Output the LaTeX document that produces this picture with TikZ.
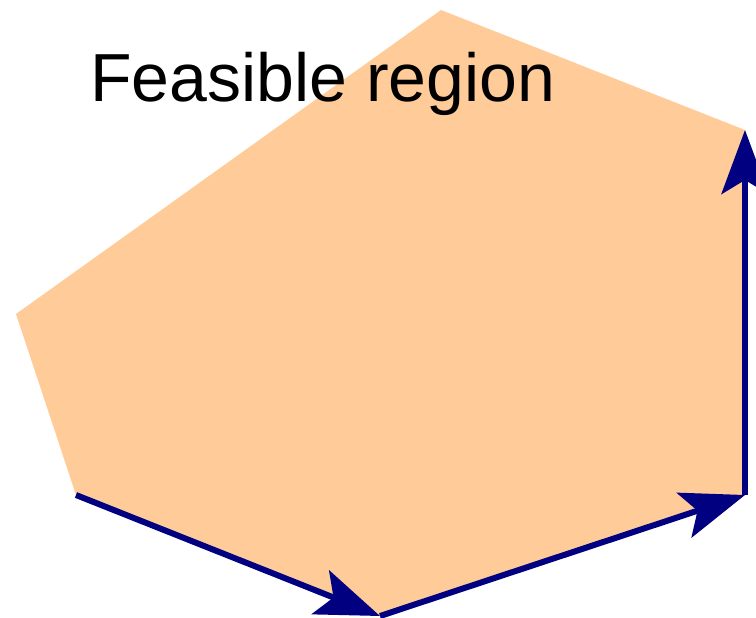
\documentclass[tikz,border=0pt]{standalone}
\usepackage{fontspec}
\setmainfont{Liberation Sans}
\usetikzlibrary{arrows.meta}
\definecolor{peach}{HTML}{FFCC99}
\definecolor{navyarrow}{HTML}{000080}
\begin{document}
\begin{tikzpicture}[x=1pt,y=-1pt,
  edgearrow/.style={draw=navyarrow,line width=6pt,-{Stealth[length=64pt,width=47pt,inset=14pt]}}]
\useasboundingbox (0,0) rectangle (756,618);
\coordinate (top) at (441,10);
\coordinate (rt) at (745,130);
\coordinate (rb) at (745,495);
\coordinate (bot) at (380,616);
\coordinate (lb) at (76,495);
\coordinate (lt) at (16,314);
\fill[peach] (top) -- (rt) -- (rb) -- (bot) -- (lb) -- (lt) -- cycle;
\node[anchor=base west,inner sep=0pt,font=\fontsize{68}{68}\selectfont] (label) at (90,102) {Feasible region};
\draw[edgearrow] (lb) -- (bot);
\draw[edgearrow] (bot) -- (rb);
\draw[edgearrow] (rb) -- (rt);
\end{tikzpicture}
\end{document}
